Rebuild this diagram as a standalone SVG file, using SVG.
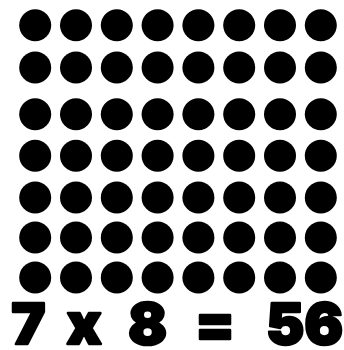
<svg xmlns="http://www.w3.org/2000/svg" width="344" height="350" viewBox="0 0 344 350">
<defs>
<style>
.d{fill:#000}
.t{font-family:Inter,"Lato","Liberation Sans",sans-serif;font-weight:900;font-size:57px;fill:#000;stroke:#000;stroke-width:2.6;stroke-linejoin:round;text-anchor:middle}
</style>
<circle id="dot" class="d" r="16"/>
</defs>
<rect width="344" height="350" fill="#fff"/>
<g id="dots">
<g id="row1" transform="translate(0,25.2)"><use href="#dot" x="35.2"/><use href="#dot" x="76"/><use href="#dot" x="116.8"/><use href="#dot" x="157.6"/><use href="#dot" x="198.4"/><use href="#dot" x="239.2"/><use href="#dot" x="280"/><use href="#dot" x="320.8"/></g>
<g id="row2" transform="translate(0,67.5)"><use href="#dot" x="35.2"/><use href="#dot" x="76"/><use href="#dot" x="116.8"/><use href="#dot" x="157.6"/><use href="#dot" x="198.4"/><use href="#dot" x="239.2"/><use href="#dot" x="280"/><use href="#dot" x="320.8"/></g>
<g id="row3" transform="translate(0,114.2)"><use href="#dot" x="35.2"/><use href="#dot" x="76"/><use href="#dot" x="116.8"/><use href="#dot" x="157.6"/><use href="#dot" x="198.4"/><use href="#dot" x="239.2"/><use href="#dot" x="280"/><use href="#dot" x="320.8"/></g>
<g id="row4" transform="translate(0,155.8)"><use href="#dot" x="35.2"/><use href="#dot" x="76"/><use href="#dot" x="116.8"/><use href="#dot" x="157.6"/><use href="#dot" x="198.4"/><use href="#dot" x="239.2"/><use href="#dot" x="280"/><use href="#dot" x="320.8"/></g>
<g id="row5" transform="translate(0,197.5)"><use href="#dot" x="35.2"/><use href="#dot" x="76"/><use href="#dot" x="116.8"/><use href="#dot" x="157.6"/><use href="#dot" x="198.4"/><use href="#dot" x="239.2"/><use href="#dot" x="280"/><use href="#dot" x="320.8"/></g>
<g id="row6" transform="translate(0,237.5)"><use href="#dot" x="35.2"/><use href="#dot" x="76"/><use href="#dot" x="116.8"/><use href="#dot" x="157.6"/><use href="#dot" x="198.4"/><use href="#dot" x="239.2"/><use href="#dot" x="280"/><use href="#dot" x="320.8"/></g>
<g id="row7" transform="translate(0,277.5)"><use href="#dot" x="35.2"/><use href="#dot" x="76"/><use href="#dot" x="116.8"/><use href="#dot" x="157.6"/><use href="#dot" x="198.4"/><use href="#dot" x="239.2"/><use href="#dot" x="280"/><use href="#dot" x="320.8"/></g>
</g>
<g id="equation">
<text class="t" y="344" x="28.5 56 84 116 147.5 181 215 250 285.3 323.7">7 x 8 = 56</text>
</g>
</svg>
